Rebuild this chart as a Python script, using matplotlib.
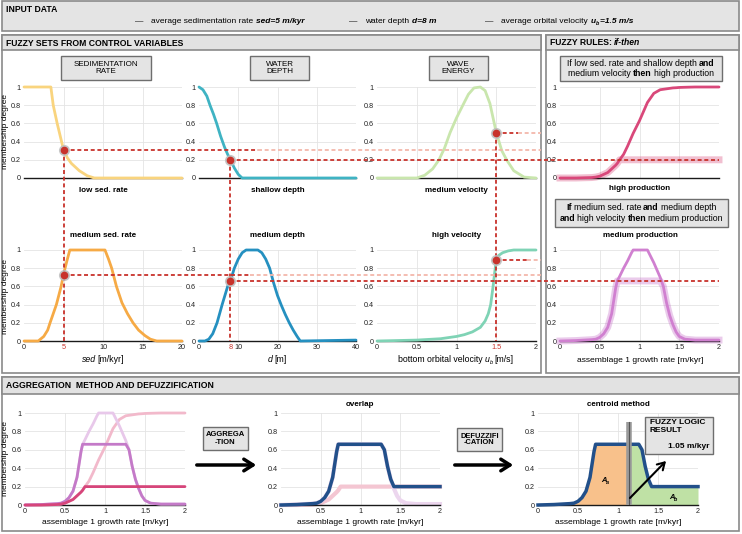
import numpy as np
import matplotlib
matplotlib.use("Agg")
import matplotlib.pyplot as plt
from matplotlib.patches import Rectangle, FancyArrowPatch
from matplotlib.lines import Line2D

plt.rcParams['font.family'] = ['Liberation Sans', 'DejaVu Sans']

# input data and membership degrees read at the inputs
sed_in, depth_in, vel_in = 5, 8, 1.5
mu_sed_low, mu_depth_shallow, mu_vel_medium = 0.31, 0.20, 0.50
mu_sed_med, mu_depth_med, mu_vel_high = 0.73, 0.66, 0.89
result = 1.05

# fuzzy sets
sed_low_x = [0, 3.4, 3.7, 4.2, 4.7, 5.0, 5.5, 6.0, 7.0, 8.0, 8.9, 20]
sed_low_y = [1, 1, 0.8, 0.6, 0.42, 0.31, 0.22, 0.16, 0.08, 0.025, 0, 0]
sed_med_x = [0, 1.8, 2.5, 3.0, 3.3, 3.7, 4.1, 4.4, 4.7, 5.0, 5.4, 5.8, 10.25, 10.7, 11.1, 11.7, 12.4, 13.1, 13.8, 14.5, 15.3, 16.0, 16.8, 20]
sed_med_y = [0, 0, 0.05, 0.12, 0.2, 0.3, 0.4, 0.5, 0.6, 0.73, 0.87, 1, 1, 0.9, 0.8, 0.6, 0.42, 0.3, 0.2, 0.12, 0.06, 0.02, 0, 0]
depth_sh_x = [0, 1, 2, 2.8, 3.7, 4.5, 5.5, 6.5, 7.3, 8, 9, 10, 11, 40]
depth_sh_y = [1, 0.97, 0.9, 0.8, 0.7, 0.6, 0.46, 0.34, 0.26, 0.2, 0.11, 0.04, 0, 0]
depth_md_x = [0, 1.5, 2.5, 3.5, 4.6, 5.9, 6.6, 7.3, 8, 9, 10, 11, 12, 15, 16, 17, 18, 18.5, 19, 20, 21, 22, 23, 24, 25, 25.8, 40]
depth_md_y = [0, 0, 0.02, 0.08, 0.2, 0.4, 0.5, 0.6, 0.66, 0.8, 0.9, 0.97, 1, 1, 0.97, 0.9, 0.8, 0.72, 0.64, 0.5, 0.39, 0.29, 0.2, 0.12, 0.05, 0, 0.01]
vel_md_x = [0, 0.5, 0.6, 0.7, 0.78, 0.85, 0.92, 1.0, 1.08, 1.15, 1.22, 1.3, 1.36, 1.42, 1.5, 1.57, 1.63, 1.72, 1.85, 2]
vel_md_y = [0, 0, 0.03, 0.1, 0.2, 0.33, 0.5, 0.66, 0.8, 0.92, 0.99, 1, 0.96, 0.82, 0.5, 0.3, 0.2, 0.08, 0.01, 0]
vel_hi_x = [0, 0.5, 0.8, 1.0, 1.1, 1.2, 1.3, 1.36, 1.4, 1.43, 1.46, 1.48, 1.5, 1.53, 1.58, 1.65, 1.72, 2]
vel_hi_y = [0, 0.01, 0.025, 0.05, 0.07, 0.1, 0.15, 0.22, 0.3, 0.4, 0.6, 0.75, 0.89, 0.94, 0.97, 0.99, 1, 1]

# output sets on a shared growth-rate grid
growth = np.array([0, 0.2, 0.4, 0.45, 0.5, 0.55, 0.6, 0.65, 0.7, 0.72, 0.75, 0.8, 0.85, 0.9, 0.92, 1.0, 1.1,
                   1.18, 1.2, 1.26, 1.3, 1.34, 1.38, 1.42, 1.46, 1.5, 1.57, 1.7, 2.0])
high_prod = np.array([0, 0, 0.005, 0.01, 0.02, 0.04, 0.06, 0.1, 0.14, 0.16, 0.2, 0.26, 0.35, 0.45, 0.49, 0.63, 0.83,
                      0.93, 0.94, 0.97, 0.975, 0.98, 0.985, 0.99, 0.992, 0.995, 0.997, 1, 1])
med_prod = np.array([0, 0.005, 0.015, 0.02, 0.04, 0.08, 0.15, 0.3, 0.58, 0.66, 0.71, 0.8, 0.88, 0.97, 1, 1, 1,
                     0.86, 0.82, 0.7, 0.6, 0.42, 0.28, 0.18, 0.1, 0.05, 0.02, 0.01, 0.01])

rule1 = min(mu_sed_low, mu_depth_shallow, mu_vel_medium)
rule2 = min(mu_sed_med, mu_depth_med, mu_vel_high)
clip_high = np.minimum(high_prod, rule1)
clip_med = np.minimum(med_prod, rule2)
aggregated = np.maximum(clip_high, clip_med)
centroid = np.trapezoid(growth * aggregated, growth) / np.trapezoid(aggregated, growth)

mu_ticks = [0, 0.2, 0.4, 0.6, 0.8, 1]
mu_labels = ['0', '0.2', '0.4', '0.6', '0.8', '1']

RED = '#c8322b'
LIGHT = '#f3b8ab'
EDGE = '#8a8a8a'
W, H = 742, 534

fig = plt.figure(figsize=(7.42, 5.34), dpi=100)


def fy(y):
    return 1 - y / H


def rect(x0, y0, x1, y1, fc, ec=EDGE, lw=1.2, z=-1):
    fig.add_artist(Rectangle((x0 / W, fy(y1)), (x1 - x0) / W, (y1 - y0) / H, transform=fig.transFigure,
                             fc=fc, ec=ec, lw=lw, zorder=z))


def rich(x, y, parts, size, ha='left'):
    # parts: (text, weight, style, gap_px, scale, dy_px); y is the baseline in pixels
    r = fig.canvas.get_renderer()
    items = []
    for p in parts:
        p = list(p) + [0, 1, 0][len(p) - 3:]
        s, wt, st, gap, sc, dy = p
        t = fig.text(0, 0, s, fontsize=size * sc, fontweight=wt, fontstyle=st, va='baseline', zorder=6)
        items.append((t, t.get_window_extent(r).width, gap, dy))
    total = sum(w + g for _, w, g, _ in items)
    x0 = x - total / 2 if ha == 'center' else x
    for t, w, g, dy in items:
        x0 += g
        t.set_position((x0 / W, fy(y + dy)))
        x0 += w


def make_ax(x0, y0, x1, y1, xlim, ticks=None, labels=None, grid=(), red_idx=None):
    ax = fig.add_axes([x0 / W, fy(y1), (x1 - x0) / W, (y1 - y0) / H])
    ax.set_xlim(*xlim)
    ax.set_ylim(0, 1)
    ax.patch.set_visible(False)
    for s in ('top', 'right', 'left'):
        ax.spines[s].set_visible(False)
    ax.spines['bottom'].set_color('#1a1a1a')
    ax.spines['bottom'].set_linewidth(1.0)
    ax.set_yticks(mu_ticks, mu_labels)
    if ticks is None:
        ax.set_xticks([])
    else:
        ax.set_xticks(ticks, labels)
    ax.tick_params(axis='y', length=0, labelsize=5.2, pad=2.5, colors='#222')
    ax.tick_params(axis='x', length=0, labelsize=5.2, pad=2.0, colors='#222')
    for g in grid:
        ax.axvline(g, color='#e4e4e4', lw=0.6, zorder=0)
    for v in mu_ticks[1:]:
        ax.axhline(v, color='#e4e4e4', lw=0.6, zorder=0)
    if red_idx is not None:
        ax.get_xticklabels()[red_idx].set_color(RED)
    return ax


# panels
rect(2, 1, 739, 31, '#e4e4e4')
rect(2, 35, 541, 373, 'white')
rect(2, 35, 541, 50, '#e2e2e2')
rect(546, 35, 739, 373, 'white')
rect(546, 35, 739, 50, '#e2e2e2')
rect(2, 377, 739, 531, 'white')
rect(2, 377, 739, 394, '#e2e2e2')

HEAD = 6.2
fig.text(6 / W, fy(9), 'INPUT DATA', fontsize=HEAD, fontweight='bold', va='center')
fig.text(6 / W, fy(43), 'FUZZY SETS FROM CONTROL VARIABLES', fontsize=HEAD, fontweight='bold', va='center')
rich(550, 45.2, [('FUZZY RULES:', 'bold', 'normal'), ('if-then', 'bold', 'italic', 2.2)], HEAD)
fig.text(6 / W, fy(386), 'AGGREGATION  METHOD AND DEFUZZIFICATION', fontsize=HEAD, fontweight='bold', va='center')

BI = ('bold', 'italic')
N = ('normal', 'normal')
IT = ('normal', 'italic')
IN = 6.0
rich(135, 23, [('—', *N), ('average sedimentation rate', *N, 8), (f'sed={sed_in:g} m/kyr', *BI, 3)], IN)
rich(349, 23, [('—', *N), ('water depth', *N, 8), (f'd={depth_in:g} m', *BI, 3)], IN)
rich(485, 23, [('—', *N), ('average orbital velocity', *N, 8),
               ('u', *BI, 3), ('b', *BI, 0, 0.65, 1.5), (f'={vel_in:g} m/s', *BI, 0)], IN)

# title boxes
for (x0, x1, txt) in [(61, 151, 'SEDIMENTATION\nRATE'), (250, 309, 'WATER\nDEPTH'), (429, 488, 'WAVE\nENERGY')]:
    rect(x0, 56, x1, 80, '#e4e4e4', '#6e6e6e', 1.0, 1)
    fig.text((x0 + x1) / 2 / W, fy(68), txt, fontsize=5.8, ha='center', va='center', linespacing=1.1, zorder=4)

RULE = 6.3
rect(560, 56, 722, 81, '#e4e4e4', '#6e6e6e', 1.0, 1)
rich(641, 66.3, [('If low sed. rate and shallow depth', *N), ('and', 'bold', 'normal', 2.0)], RULE, 'center')
rich(641, 76.3, [('medium velocity', *N), ('then', 'bold', 'normal', 2.0), ('high production', *N, 2.0)], RULE, 'center')
rect(555, 199, 728, 227, '#e4e4e4', '#6e6e6e', 1.0, 1)
rich(641, 210.5, [('If', 'bold', 'normal'), ('medium sed. rate', *N, 2.0), ('and', 'bold', 'normal', 2.0),
                  ('medium depth', *N, 2.0)], RULE, 'center')
rich(641, 220.5, [('and', 'bold', 'normal'), ('high velocity', *N, 2.0), ('then', 'bold', 'normal', 2.0),
                  ('medium production', *N, 2.0)], RULE, 'center')

# fuzzy set axes
sed_t, sed_l = [0, 5, 10, 15, 20], ['0', '5', '10', '15', '20']
dep_t, dep_l = [0, 8, 10, 20, 30, 40], ['0', '8', '10', '20', '30', '40']
vel_t, vel_l = [0, 0.5, 1, 1.5, 2], ['0', '0.5', '1', '1.5', '2']
ax_s1 = make_ax(24, 87, 182, 178, (0, 20), grid=[5, 10, 15])
ax_d1 = make_ax(199, 87, 356, 178, (0, 40), grid=[10, 20, 30])
ax_v1 = make_ax(377, 87, 536, 178, (0, 2), grid=[0.5, 1, 1.5])
ax_r1 = make_ax(560, 87, 719, 178, (0, 2), grid=[0.5, 1, 1.5])
ax_s2 = make_ax(24, 250, 182, 341, (0, 20), sed_t, sed_l, [5, 10, 15], 1)
ax_d2 = make_ax(199, 250, 356, 341, (0, 40), dep_t, dep_l, [10, 20, 30], 1)
ax_v2 = make_ax(377, 250, 536, 341, (0, 2), vel_t, vel_l, [0.5, 1, 1.5], 3)
ax_r2 = make_ax(560, 250, 719, 341, (0, 2), vel_t, vel_l, [0.5, 1, 1.5])

kw = dict(lw=2, clip_on=False, zorder=3, solid_capstyle='round')
ax_s1.plot(sed_low_x, sed_low_y, color='#f9d47e', **kw)
ax_s2.plot(sed_med_x, sed_med_y, color='#f6aa45', **kw)
ax_d1.plot(depth_sh_x, depth_sh_y, color='#3fb3c3', **kw)
ax_d2.plot(depth_md_x, depth_md_y, color='#2590c0', **kw)
ax_v1.plot(vel_md_x, vel_md_y, color='#c9e6ad', **kw)
ax_v2.plot(vel_hi_x, vel_hi_y, color='#7fd3b5', **kw)
ax_r1.plot(growth, clip_high, color='#d9487a', lw=5, alpha=0.35, clip_on=False, zorder=2)
ax_r1.plot(growth, high_prod, color='#d9487a', **kw)
ax_r2.plot(growth, clip_med, color='#c46cc6', lw=5, alpha=0.35, clip_on=False, zorder=2)
ax_r2.plot(growth, med_prod, color='#d080d0', **kw)

LAB = 5.8
for ax, lab in [(ax_s1, 'low sed. rate'), (ax_d1, 'shallow depth'), (ax_v1, 'medium velocity')]:
    c = ax.get_position()
    fig.text((c.x0 + c.x1) / 2, fy(190), lab, fontsize=LAB, fontweight='bold', ha='center', va='center')
for ax, lab in [(ax_s2, 'medium sed. rate'), (ax_d2, 'medium depth'), (ax_v2, 'high velocity')]:
    c = ax.get_position()
    fig.text((c.x0 + c.x1) / 2, fy(235), lab, fontsize=LAB, fontweight='bold', ha='center', va='center')
fig.text(640 / W, fy(189), 'high production', fontsize=LAB, fontweight='bold', ha='center', va='center')
fig.text(640 / W, fy(235), 'medium production', fontsize=LAB, fontweight='bold', ha='center', va='center')

XL = 6.3
rich(103, 362.5, [('sed', *IT), ('[m/kyr]', *N, 2.0)], XL, 'center')
rich(277, 362.5, [('d', *IT), ('[m]', *N, 2.0)], XL, 'center')
rich(456, 362.5, [('bottom orbital velocity', *N), ('u', *IT, 2.0), ('b', *IT, 0, 0.65, 1.5), ('[m/s]', *N, 2.0)], XL, 'center')
rich(640, 362.5, [('assemblage 1 growth rate [m/kyr]', *N)], 6.1, 'center')

for yc in (132, 296, 459):
    fig.text(6 / W, fy(yc), 'membership degree', fontsize=6.0, rotation=90, ha='center', va='center')


# red guide lines
def px(ax, x, y):
    return ax.transData.transform((x, y))


def seg(p, q, color):
    fig.add_artist(Line2D([p[0] / W, q[0] / W], [p[1] / H, q[1] / H], transform=fig.transFigure,
                          color=color, lw=1.3, ls=(0, (2.2, 1.5)), zorder=6))


def dot(p):
    fig.add_artist(Line2D([p[0] / W], [p[1] / H], transform=fig.transFigure, marker='o', ms=7,
                          color='#bdbdbd', alpha=0.8, zorder=7))
    fig.add_artist(Line2D([p[0] / W], [p[1] / H], transform=fig.transFigure, marker='o', ms=4.5,
                          color=RED, zorder=8))


right_end = px(ax_r1, 2, 0)[0]
columns = [
    (ax_s1, ax_s2, sed_in, mu_sed_low, mu_sed_med, (258, 541), (250, 541)),
    (ax_d1, ax_d2, depth_in, mu_depth_shallow, mu_depth_med, (right_end, None), (right_end, None)),
    (ax_v1, ax_v2, vel_in, mu_vel_medium, mu_vel_high, (518, 541), (527, 541)),
]
for at, ab, xin, mt, mb, end_t, end_b in columns:
    pt, pb, p0 = px(at, xin, mt), px(ab, xin, mb), px(ab, xin, 0)
    seg(pt, p0, RED)
    for p, (dark, light) in [(pt, end_t), (pb, end_b)]:
        seg(p, (dark, p[1]), RED)
        if light is not None:
            seg((dark, p[1]), (light, p[1]), LIGHT)
        dot(p)

# aggregation axes
g_t, g_l = [0, 0.5, 1, 1.5, 2], ['0', '0.5', '1', '1.5', '2']
ax_a = make_ax(25, 413, 185, 505, (0, 2), g_t, g_l, [0.5, 1, 1.5])
ax_o = make_ax(281, 413, 440, 505, (0, 2), g_t, g_l, [0.5, 1, 1.5])
ax_c = make_ax(538, 413, 698, 505, (0, 2), g_t, g_l, [0.5, 1, 1.5])
NAVY = '#22508a'

ax_a.plot(growth, high_prod, color='#f2b9cb', **kw)
ax_a.plot(growth, med_prod, color='#e8c8ea', **kw)
ax_a.plot(growth, clip_med, color='#c47ac8', **kw)
ax_a.plot(growth, clip_high, color='#d6457a', **kw)

ax_o.plot(growth, clip_high, color='#f4c6d2', lw=3, clip_on=False, zorder=2)
ax_o.plot(growth, clip_med, color='#ecd6ee', lw=3, clip_on=False, zorder=2)
ax_o.plot(growth, aggregated, color=NAVY, lw=2.5, clip_on=False, zorder=3)

yc = np.interp(centroid, growth, aggregated)
left = growth < centroid
ax_c.fill_between(np.append(growth[left], centroid), np.append(aggregated[left], yc), color='#f8c18b', lw=0, zorder=1)
ax_c.fill_between(np.insert(growth[~left], 0, centroid), np.insert(aggregated[~left], 0, yc), color='#bfe1a5', lw=0, zorder=1)
ax_c.plot(growth, aggregated, color=NAVY, lw=2.5, clip_on=False, zorder=3)
ax_c.plot([centroid, centroid], [0, 0.9], color='#9a9a9a', lw=4, zorder=4, solid_capstyle='butt')
ax_c.plot([centroid, centroid], [0, 0.9], color='#555555', lw=0.8, zorder=4)

pa = px(ax_c, 0.84, 0.25)
rich(pa[0], H - pa[1], [('A', *BI), ('a', *BI, 0, 0.7, 1.5)], 5.5, 'center')
pb_ = px(ax_c, 1.69, 0.06)
rich(pb_[0], H - pb_[1], [('A', *BI), ('b', *BI, 0, 0.7, 1.5)], 5.5, 'center')

fig.text(360 / W, fy(404), 'overlap', fontsize=LAB, fontweight='bold', ha='center', va='center')
fig.text(618 / W, fy(404), 'centroid method', fontsize=LAB, fontweight='bold', ha='center', va='center')
for xc in (105, 360, 618):
    rich(xc, 523.5, [('assemblage 1 growth rate [m/kyr]', *N)], 6.1, 'center')

# aggregation / defuzzification arrows and boxes
rect(203, 427, 248, 450, '#e4e4e4', '#6e6e6e', 1.0, 1)
fig.text(225.5 / W, fy(438.5), 'AGGREGA\n-TION', fontsize=5.5, fontweight='bold', ha='center', va='center',
         linespacing=1.0, zorder=4)
rect(457, 428, 502, 451, '#e4e4e4', '#6e6e6e', 1.0, 1)
fig.text(479.5 / W, fy(439.5), 'DEFUZZIFI\n-CATION', fontsize=5.4, fontweight='bold', ha='center', va='center',
         linespacing=1.0, zorder=4)
arrow = dict(arrowstyle='->,head_length=0.55,head_width=0.35', lw=2.5, color='black', mutation_scale=12)
fig.add_artist(FancyArrowPatch((194 / W, fy(465)), (259 / W, fy(465)), transform=fig.transFigure, **arrow))
fig.add_artist(FancyArrowPatch((452 / W, fy(465)), (516 / W, fy(465)), transform=fig.transFigure, **arrow))

rect(645, 417, 713, 454, '#e4e4e4', '#6e6e6e', 1.0, 5)
fig.text(650 / W, fy(426.5), 'FUZZY LOGIC\nRESULT', fontsize=6.0, fontweight='bold', va='center', ha='left',
         linespacing=1.1, zorder=6)
fig.text(668 / W, fy(447), f'{result:.2f} m/kyr', fontsize=6.0, fontweight='bold', va='center', ha='left', zorder=6)
fig.add_artist(FancyArrowPatch((628 / W, fy(500)), (668 / W, fy(459)), transform=fig.transFigure,
                               arrowstyle='->,head_length=0.5,head_width=0.3', lw=1.5, color='black',
                               mutation_scale=10, zorder=6))

fig.savefig('out.png', dpi=100)
